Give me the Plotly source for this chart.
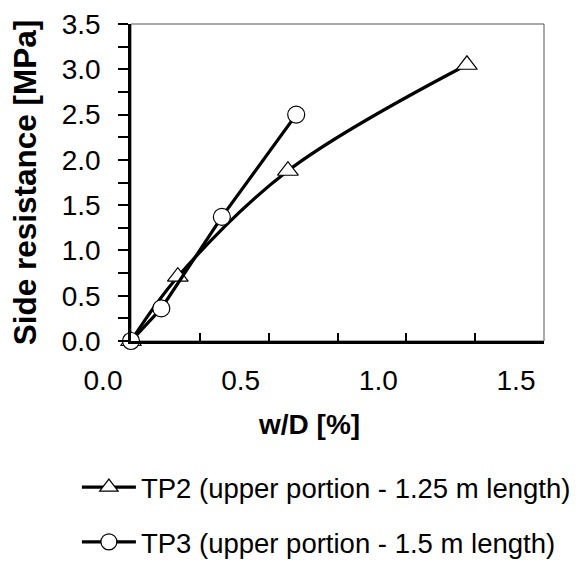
import plotly.graph_objects as go

# Data
tp2_x = [0.0, 0.17, 0.57, 1.22]
tp2_y = [0.0, 0.71, 1.88, 3.05]
tp3_x = [0.0, 0.11, 0.33, 0.60]
tp3_y = [0.0, 0.36, 1.37, 2.50]
tp2_name = "TP2 (upper portion - 1.25 m length)"
tp3_name = "TP3 (upper portion - 1.5 m length)"
x_tickvals = [0.0, 0.5, 1.0, 1.5]
x_ticktext = ["0.0", "0.5", "1.0", "1.5"]
y_tickvals = [0.0, 0.5, 1.0, 1.5, 2.0, 2.5, 3.0, 3.5]
y_ticktext = ["0.0", "0.5", "1.0", "1.5", "2.0", "2.5", "3.0", "3.5"]

FONT = "Liberation Sans, Arial, sans-serif"

fig = go.Figure()
fig.add_trace(go.Scatter(
    x=tp2_x, y=tp2_y, name=tp2_name, mode="lines+markers",
    line=dict(color="black", width=3.2, shape="spline", smoothing=1),
    marker=dict(symbol="triangle-up", size=18, color="white",
                line=dict(color="black", width=1.2)),
    cliponaxis=False, legendgroup="a",
))
fig.add_trace(go.Scatter(
    x=tp3_x, y=tp3_y, name=tp3_name, mode="lines+markers",
    line=dict(color="black", width=3.2),
    marker=dict(symbol="circle", size=17, color="white",
                line=dict(color="black", width=1.2)),
    cliponaxis=False, legendgroup="b",
))

fig.update_layout(
    width=579, height=562,
    margin=dict(l=131, r=35, t=24, b=221, autoexpand=False),
    paper_bgcolor="white", plot_bgcolor="white",
    font=dict(family=FONT, size=28, color="black"),
    showlegend=True,
    legend=dict(
        x=-0.131, xanchor="left", y=-0.384, yanchor="top",
        font=dict(family=FONT, size=27.5, color="black"),
        traceorder="grouped", tracegroupgap=16, itemwidth=54,
        bgcolor="rgba(0,0,0,0)",
    ),
    xaxis=dict(
        range=[0, 1.5], tickmode="array", tickvals=x_tickvals, ticktext=x_ticktext,
        ticks="inside", ticklen=8, tickwidth=2, tickcolor="black",
        minor=dict(dtick=0.25, tick0=0, ticks="inside", ticklen=8, tickwidth=2, tickcolor="black"),
        showline=True, linecolor="black", linewidth=2.5,
        showgrid=False, zeroline=False,
        tickfont=dict(family=FONT, size=28),
        ticklabelshift=-28, ticklabelstandoff=13,
    ),
    yaxis=dict(
        range=[0, 3.5], tickmode="array", tickvals=y_tickvals, ticktext=y_ticktext,
        ticks="outside", ticklen=10, tickwidth=2, tickcolor="black",
        minor=dict(dtick=0.25, tick0=0, ticks="outside", ticklen=10, tickwidth=2, tickcolor="black"),
        showline=True, linecolor="black", linewidth=2.5,
        showgrid=False, zeroline=False,
        tickfont=dict(family=FONT, size=28),
        ticklabelstandoff=12,
        title=dict(text="<b>Side resistance [MPa]</b>", font=dict(family=FONT, size=31.5), standoff=16),
    ),
    shapes=[dict(type="rect", xref="x domain", yref="y domain", x0=0, y0=0, x1=1, y1=1,
                 line=dict(color="#555555", width=1), layer="below")],
    annotations=[dict(text="<b>w/D [%]</b>", xref="paper", yref="paper",
                      x=0.431, y=-0.263, xanchor="center", yanchor="middle",
                      showarrow=False, font=dict(family=FONT, size=28))],
)

fig.write_html("out.html")
